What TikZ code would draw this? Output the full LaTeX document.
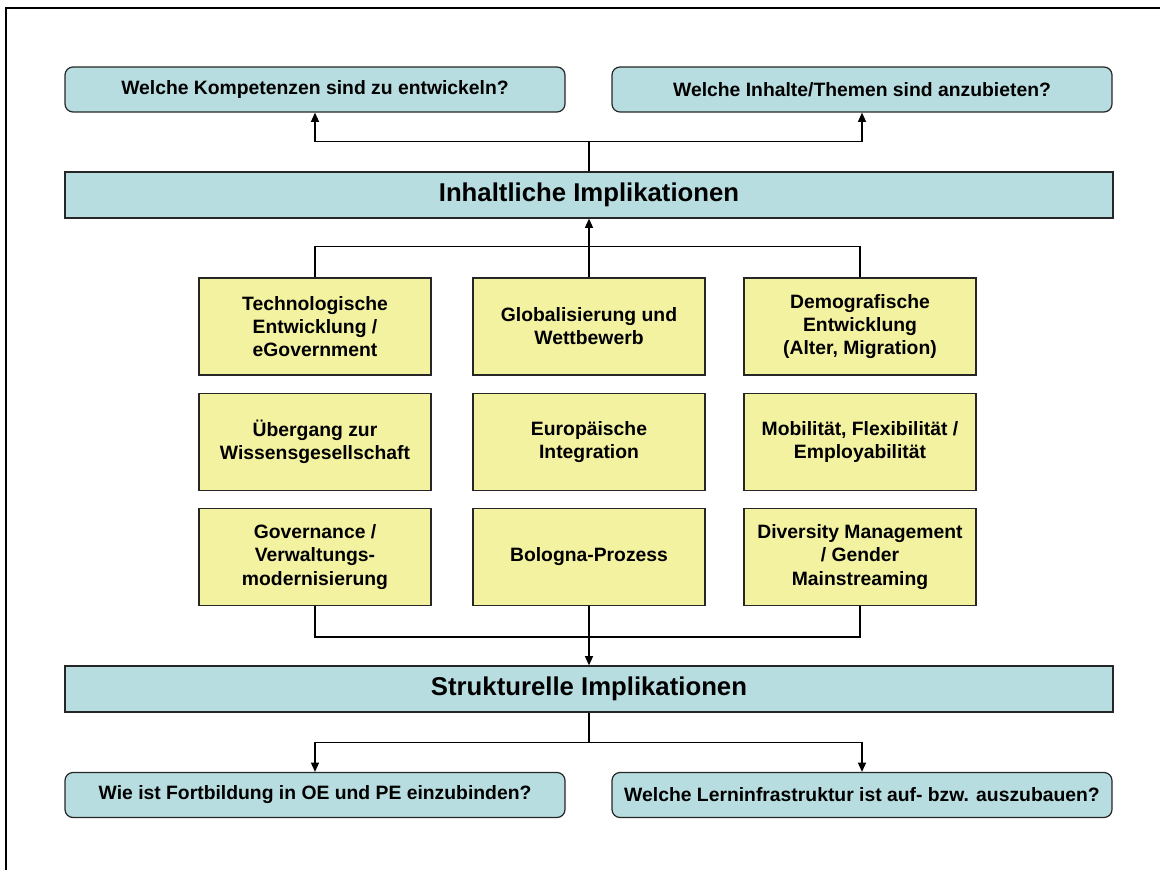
\documentclass[tikz,border=0pt]{standalone}
\usepackage{fontspec}
\setmainfont{Liberation Sans}
\usetikzlibrary{arrows.meta}
\definecolor{qblue}{RGB}{183,221,224}
\definecolor{fyellow}{RGB}{243,242,160}
\begin{document}
\begin{tikzpicture}[x=0.75pt, y=-0.75pt,
    question/.style={draw=black!85, fill=qblue, rounded corners=6pt, line width=0.9pt,
        minimum width=375pt, minimum height=33.75pt, font=\fontsize{14.5}{17}\selectfont\bfseries},
    banner/.style={draw=black!85, fill=qblue, line width=0.9pt,
        minimum width=786pt, minimum height=34.5pt, font=\fontsize{19.3}{22}\selectfont\bfseries},
    factor/.style={draw=black!85, fill=fyellow, line width=0.9pt, align=center,
        minimum width=174pt, minimum height=72.75pt, font=\fontsize{14.5}{17.3}\selectfont\bfseries},
    link/.style={line width=1.1pt},
    arrow/.style={link, -{Triangle[length=7pt, width=6pt]}}]
    \useasboundingbox (0,0) rectangle (1160,870);
    \draw[line width=1.6pt] (6,870) -- (6,8) -- (1160,8);

    % Questions on top
    \node[question] (q1) at (315, 89.5) {Welche Kompetenzen sind zu entwickeln?};
    \node[question] (q2) at (862, 89.5) {Welche Inhalte/Themen sind anzubieten?};

    \node[banner] (inh) at (589, 195) {Inhaltliche Implikationen};

    % Factors, three rows of three
    \node[factor] (t1) at (315, 326.5) {Technologische\\Entwicklung /\\eGovernment};
    \node[factor] (t2) at (589, 326.5) {Globalisierung und\\Wettbewerb};
    \node[factor] (t3) at (860, 326.5) {Demografische\\Entwicklung\\(Alter, Migration)};

    \node[factor] (m1) at (315, 442) {Übergang zur\\Wissensgesellschaft};
    \node[factor] (m2) at (589, 442) {Europäische\\Integration};
    \node[factor] (m3) at (860, 442) {Mobilität, Flexibilität /\\Employabilität};

    \node[factor] (b1) at (315, 557) {Governance /\\Verwaltungs-\\modernisierung};
    \node[factor] (b2) at (589, 557) {Bologna-Prozess};
    \node[factor] (b3) at (860, 557) {Diversity Management\\/ Gender\\Mainstreaming};

    \node[banner] (str) at (589, 689) {Strukturelle Implikationen};

    % Questions at the bottom
    \node[question] (q3) at (315, 795) {Wie ist Fortbildung in OE und PE einzubinden?};
    \node[question] (q4) at (862, 795) {Welche Lerninfrastruktur ist auf- bzw. auszubauen?};

    % Connectors
    \draw[arrow] (inh.north) -- ++(0,-30) -| (q1.south);
    \draw[arrow] (inh.north) -- ++(0,-30) -| (q2.south);
    \draw[link] (t1.north) -- ++(0,-31) -| (t3.north);
    \draw[arrow] (t2.north) -- (inh.south);
    \draw[link] (b1.south) -- ++(0,31) -| (b3.south);
    \draw[arrow] (b2.south) -- (str.north);
    \draw[arrow] (str.south) -- ++(0,30) -| (q3.north);
    \draw[arrow] (str.south) -- ++(0,30) -| (q4.north);
\end{tikzpicture}
\end{document}
